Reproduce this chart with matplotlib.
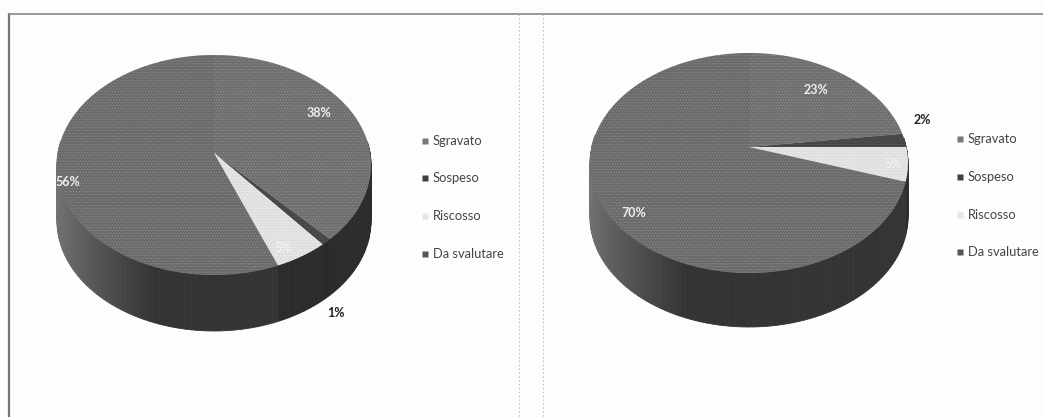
import numpy as np
import matplotlib
matplotlib.use("Agg")
import matplotlib.pyplot as plt
from matplotlib.patches import Polygon

categories = ["Sgravato", "Sospeso", "Riscosso", "Da svalutare"]
left_values = [38, 1, 5, 56]
right_values = [23, 2, 5, 70]
left_labels = ["38%", "1%", "5%", "56%"]
right_labels = ["23%", "2%", "5%", "70%"]

top_colors = ["#6e6e6e", "#454545", "#dedede", "#6a6a6a"]
side_dark = ["#2c2c2c", "#2a2a2a", "#2c2c2c", "#343434"]
legend_colors = ["#777777", "#3f3f3f", "#e4e4e4", "#555555"]
hatch_colors = ["#8f8f8f", "#5a5a5a", "#f4f4f4", "#8b8b8b"]

plt.rcParams["font.family"] = ["Lato", "DejaVu Sans"]
plt.rcParams["hatch.linewidth"] = 0.5

fig = plt.figure(figsize=(10.43, 4.17), dpi=100, facecolor="#fdfdfd")
ax = fig.add_axes([0, 0, 1, 1])
ax.set_xlim(0, 1043)
ax.set_ylim(417, 0)
ax.axis("off")


def project(theta, cx, cy, a, up, down):
    # circle seen in perspective, the apex sits above the middle of the ellipse
    m = (down - up) / (down + up)
    k = up * (1 + m)
    big = a * np.sqrt(1 - m**2)
    c, s = np.cos(theta), np.sin(theta)
    den = 1 + m * s
    return cx + big * c / den, cy - k * s / den


def draw_pie(values, labels, cx, cy, a, up, down, depth, label_pos):
    edges = np.cumsum([0] + values) / sum(values)
    angles = np.pi / 2 - 2 * np.pi * edges
    for i in range(len(values)):
        # side wall, split up so it goes lighter towards the left
        steps = np.linspace(angles[i], angles[i + 1], max(3, values[i] * 2))
        for t0, t1 in zip(steps[:-1], steps[1:]):
            if np.sin((t0 + t1) / 2) > 0.1:
                continue
            x0, y0 = project(t0, cx, cy, a, up, down)
            x1, y1 = project(t1, cx, cy, a, up, down)
            shade = np.clip(-np.cos((t0 + t1) / 2) - 0.35, 0, 1) / 0.65
            base = np.array(matplotlib.colors.to_rgb(side_dark[i]))
            col = base + (np.array([0.45, 0.45, 0.45]) - base) * shade
            ax.add_patch(
                Polygon(
                    [(x0, y0), (x1, y1), (x1, y1 + depth), (x0, y0 + depth)],
                    facecolor=col,
                    edgecolor=col,
                    linewidth=0.6,
                    zorder=1,
                )
            )
    for i in range(len(values)):
        t = np.linspace(angles[i], angles[i + 1], max(4, values[i] * 3))
        x, y = project(t, cx, cy, a, up, down)
        pts = [(cx, cy)] + list(zip(x, y))
        ax.add_patch(
            Polygon(pts, facecolor=top_colors[i], edgecolor="none", zorder=2)
        )
        ax.add_patch(
            Polygon(
                pts,
                facecolor="none",
                edgecolor=hatch_colors[i],
                hatch="......",
                linewidth=0,
                zorder=3,
            )
        )
    for i, (lx, ly) in enumerate(label_pos):
        if i == 1:
            color, weight = "#222222", "bold"
        elif i == 2:
            color, weight = "#f4f4f4", "normal"
        else:
            color, weight = "#eeeeee", "bold"
        ax.text(
            lx, ly, labels[i], color=color, fontsize=9, fontweight=weight,
            ha="center", va="center", zorder=4,
        )


def draw_legend(x, ys):
    for name, col, y in zip(categories, legend_colors, ys):
        ax.plot(x, y, marker="s", ms=5, color=col, mec="none", zorder=4)
        ax.text(x + 8, y, name, fontsize=9.3, color="#444444", ha="left", va="center")


draw_pie(
    left_values, left_labels, 214, 153, 157, 98, 122, 56,
    [(319, 113), (336, 313), (283, 248), (68, 182)],
)
draw_pie(
    right_values, right_labels, 749, 147, 159, 94, 126, 54,
    [(816, 90), (922, 120), (893, 164), (634, 213)],
)
draw_legend(425, [141, 178, 216, 254])
draw_legend(960, [139, 177, 215, 252])

# scanned page frame and the dotted divider
ax.plot([9, 9], [14, 417], color="#777777", lw=1.6)
ax.plot([9, 1043], [14, 14], color="#888888", lw=1.2)
ax.plot([519, 519], [14, 417], color="#c4c4c4", lw=0.8, ls=(0, (1.5, 2)))
ax.plot([543, 543], [14, 417], color="#c4c4c4", lw=0.8, ls=(0, (1.5, 2)))

fig.savefig("out.png", dpi=100, facecolor=fig.get_facecolor())
